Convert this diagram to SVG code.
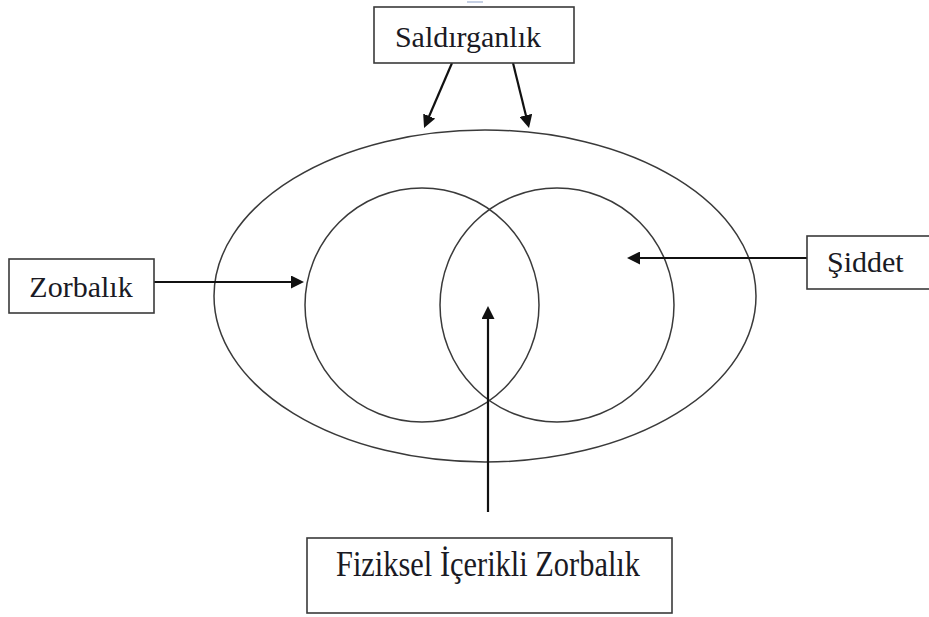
<svg xmlns="http://www.w3.org/2000/svg" width="929" height="617" viewBox="0 0 929 617">
  <style>
    .box { fill: #ffffff; stroke: #3a3a3a; stroke-width: 1.6; }
    .shape { fill: none; stroke: #3a3a3a; stroke-width: 1.5; }
    .conn { fill: none; stroke: #111111; stroke-width: 2.2; marker-end: url(#arrow); }
    .lbl { font-family: 'Liberation Serif', 'Times New Roman', serif; font-size: 30px; fill: #1a1a24; }
  </style>
  <defs>
    <marker id="arrow" viewBox="0 0 13 13" refX="5" refY="6.5" markerWidth="13" markerHeight="13" markerUnits="userSpaceOnUse" orient="auto">
      <path d="M0,0 L13,6.5 L0,13 z" fill="#111111"/>
    </marker>
  </defs>
  <rect width="929" height="617" fill="#ffffff"/>
  <line x1="467" y1="2" x2="483" y2="2" stroke="#9fb0d0" stroke-width="1.2"/>

  <g id="shapes">
    <ellipse cx="485" cy="296" rx="271" ry="166" class="shape"/>
    <circle cx="422" cy="305" r="117" class="shape"/>
    <circle cx="557" cy="305" r="117" class="shape"/>
  </g>

  <g id="connectors">
    <line x1="452" y1="63" x2="427.2" y2="120.7" class="conn"/>
    <line x1="513" y1="63" x2="527.1" y2="120.2" class="conn"/>
    <line x1="154" y1="282" x2="296" y2="282" class="conn"/>
    <line x1="807" y1="258" x2="635" y2="258" class="conn"/>
    <line x1="488" y1="512" x2="488" y2="314" class="conn"/>
  </g>

  <g id="node-saldirganlik">
    <rect x="374" y="7" width="200" height="56" class="box"/>
    <text x="468" y="47" text-anchor="middle" class="lbl">Saldırganlık</text>
  </g>

  <g id="node-zorbalik">
    <rect x="9" y="259" width="145" height="54" class="box"/>
    <text x="81" y="297" text-anchor="middle" class="lbl">Zorbalık</text>
  </g>

  <g id="node-siddet">
    <rect x="807" y="236" width="130" height="53" class="box"/>
    <text x="827" y="272" class="lbl">Şiddet</text>
  </g>

  <g id="node-fiziksel">
    <rect x="307" y="538" width="365" height="75" class="box"/>
    <text x="336" y="576" class="lbl" style="font-size:36px" textLength="304" lengthAdjust="spacingAndGlyphs">Fiziksel İçerikli Zorbalık</text>
  </g>
</svg>
